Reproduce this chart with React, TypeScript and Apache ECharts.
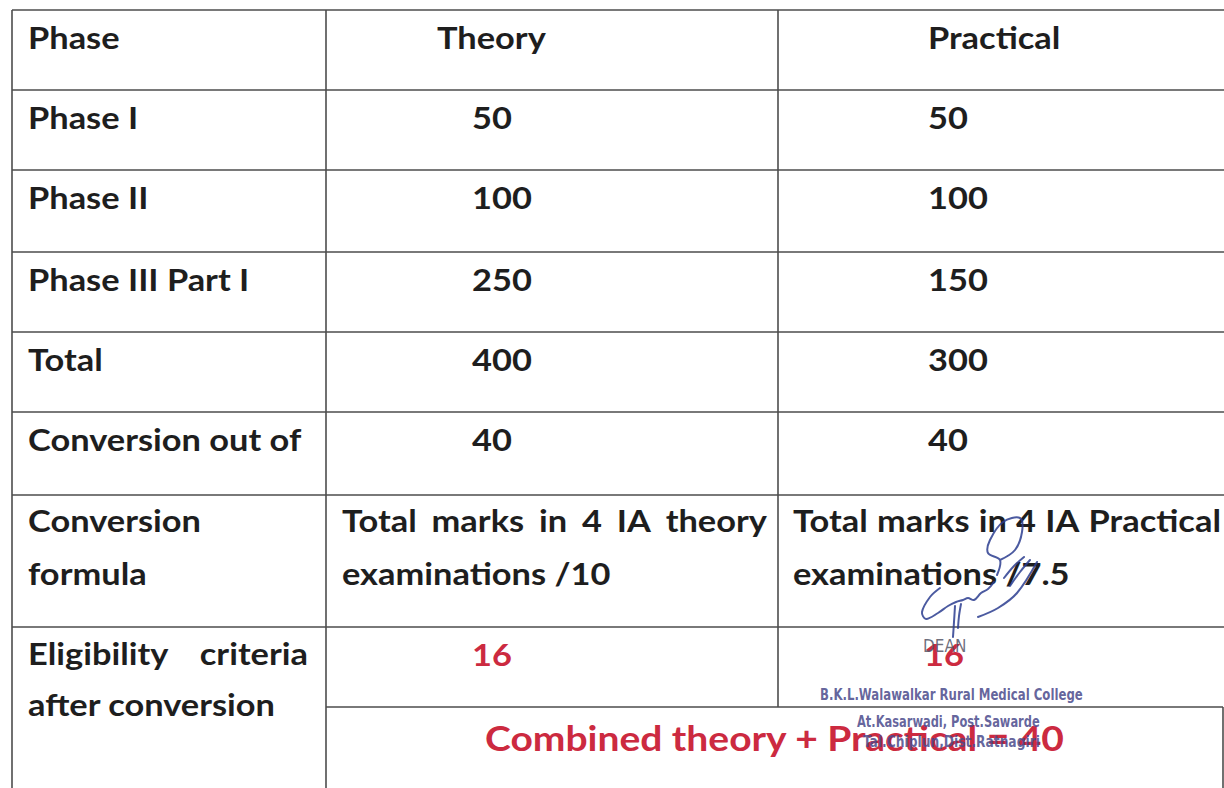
import React, { useEffect, useRef } from "react";
import * as echarts from "echarts";

// ---- data ----
const headers = ["Phase", "Theory", "Practical"];
const phases = ["Phase I", "Phase II", "Phase III Part I", "Total", "Conversion out of"];
const theoryMarks = ["50", "100", "250", "400", "40"];
const practicalMarks = ["50", "100", "150", "300", "40"];
const formulaLabel = ["Conversion", "formula"];
const theoryFormula = ["Total marks in 4 IA theory", "examinations /10"];
const practicalFormula = ["Total marks in 4 IA Practical", "examinations /7.5"];
const eligibilityLabel = ["Eligibility criteria", "after conversion"];
const eligibility = ["16", "16"];
const combinedText = "Combined theory + Practical = 40";
const stampLines = [
  "B.K.L.Walawalkar Rural Medical College",
  "At.Kasarwadi, Post.Sawarde",
  "Tal.Chiplun,Dist.Ratnagiri",
];
const stampTitle = "DEAN";

// ---- layout ----
const W = 1224;
const H = 788;
const FONT = "Lato, 'Open Sans', sans-serif";
const FS = 31;
const SX = 1.11;
const TEXT = "#1e1e1e";
const RED = "#cc2a40";
const LINE = "#4d4d4d";
const X0 = 12, X1 = 326, X2 = 778, X3 = 1223;
const rowTops = [10, 90, 170, 252, 332, 412, 495, 627];
const subRow = 707;
const BASE = 36;

const ctx = typeof document !== "undefined" ? document.createElement("canvas").getContext("2d") : null;
function measure(t: string, size: number, family: string, weight = "bold") {
  if (!ctx) return t.length * size * 0.5;
  ctx.font = `${weight} ${size}px ${family}`;
  return ctx.measureText(t).width;
}

function txt(text: string, x: number, baseline: number, opts: any = {}) {
  const size = opts.size ?? FS;
  return {
    type: "text",
    x,
    y: baseline - size * 0.3,
    z: opts.z ?? 10,
    scaleX: opts.scaleX ?? SX,
    style: {
      text,
      fill: opts.fill ?? TEXT,
      font: `${opts.weight ?? "bold"} ${size}px ${opts.family ?? FONT}`,
      textAlign: opts.align ?? "left",
      textVerticalAlign: "middle",
      opacity: opts.opacity ?? 1,
    },
  };
}

function justify(text: string, xa: number, xb: number, baseline: number, opts: any = {}) {
  const words = text.split(" ");
  const size = opts.size ?? FS;
  const widths = words.map((w) => measure(w, size, FONT) * SX);
  const total = widths.reduce((a, b) => a + b, 0);
  const gap = words.length > 1 ? (xb - xa - total) / (words.length - 1) : 0;
  const out: any[] = [];
  let x = xa;
  words.forEach((w, i) => {
    out.push(txt(w, x, baseline, opts));
    x += widths[i] + gap;
  });
  return out;
}

function line(x1: number, y1: number, x2: number, y2: number) {
  return {
    type: "line",
    z: 1,
    shape: { x1, y1, x2, y2 },
    style: { stroke: LINE, lineWidth: 1.6 },
  };
}

function buildGraphic() {
  const g: any[] = [];
  g.push({ type: "rect", z: 0, shape: { x: 0, y: 0, width: W, height: H }, style: { fill: "#ffffff" } });
  // horizontal lines
  rowTops.forEach((y) => g.push(line(X0, y, X3 + 2, y)));
  g.push(line(X1, subRow, X3, subRow));
  // vertical lines
  g.push(line(X0, rowTops[0], X0, H));
  g.push(line(X1, rowTops[0], X1, H));
  g.push(line(X2, rowTops[0], X2, subRow));
  g.push(line(X3, subRow, X3, H));

  // header
  g.push(txt(headers[0], 28, rowTops[0] + BASE));
  g.push(txt(headers[1], 437, rowTops[0] + BASE));
  g.push(txt(headers[2], 928, rowTops[0] + BASE));

  phases.forEach((p, i) => {
    const b = rowTops[i + 1] + BASE;
    g.push(txt(p, 28, b));
    g.push(txt(theoryMarks[i], 472, b));
    g.push(txt(practicalMarks[i], 928, b));
  });

  // conversion formula row
  const fTop = rowTops[6];
  g.push(txt(formulaLabel[0], 28, fTop + 34));
  g.push(txt(formulaLabel[1], 28, fTop + 87));
  g.push(...justify(theoryFormula[0], 342, 767, fTop + 34));
  g.push(txt(theoryFormula[1], 342, fTop + 87));
  g.push(...justify(practicalFormula[0], 793, 1221, fTop + 34));
  g.push(txt(practicalFormula[1], 793, fTop + 87));

  // eligibility
  const eTop = rowTops[7];
  g.push(...justify(eligibilityLabel[0], 28, 308, eTop + 35));
  g.push(txt(eligibilityLabel[1], 28, eTop + 86));
  g.push(txt(eligibility[0], 472, eTop + 36, { fill: RED }));
  g.push(txt(eligibility[1], 924, eTop + 36, { fill: RED }));
  const cSize = 35;
  const cScale = 580 / measure(combinedText, cSize, FONT);
  g.push(txt(combinedText, (X1 + X3) / 2, 748, { fill: RED, align: "center", size: cSize, scaleX: cScale }));

  // stamp
  const STAMP = "#4a4a8c";
  const SF = "'Liberation Sans Narrow', 'DejaVu Sans Condensed', 'Liberation Sans', sans-serif";
  g.push(txt(stampTitle, 923, 651, { size: 17, family: SF, weight: "normal", fill: "#555566", z: 20, opacity: 0.85, scaleX: 1 }));
  const stampSpec = [
    { x: 820, w: 263, b: 699 },
    { x: 857, w: 183, b: 726 },
    { x: 863, w: 177, b: 746 },
  ];
  stampLines.forEach((s, i) => {
    const sp = stampSpec[i];
    const mw = measure(s, 15, SF, "bold");
    g.push(txt(s, sp.x, sp.b, { size: 15, family: SF, weight: "bold", fill: STAMP, z: 20, opacity: 0.85, scaleX: sp.w / mw }));
  });

  // signature strokes
  const SIG = "#2b3d8f";
  const strokes = [
    // G-shaped start
    [[940, 588], [930, 597], [922, 612], [926, 619], [938, 613], [948, 606], [956, 602], [963, 600], [968, 598], [974, 600], [981, 593], [988, 589], [994, 582]],
    // vertical stroke
    [[955, 606], [954, 622], [953, 637]],
    [[961, 604], [959, 616], [958, 628]],
    // long diagonal
    [[978, 617], [998, 608], [1017, 593], [1037, 562]],
    // upper loop
    [[1000, 560], [1015, 550], [1022, 532], [1020, 518], [1003, 522], [990, 540], [988, 553], [1000, 560], [997, 575]],
    // slashes over 7.5
    [[1004, 578], [1014, 566], [1024, 557]],
    [[1010, 586], [1020, 572], [1030, 560]],
  ];
  strokes.forEach((pts) =>
    g.push({
      type: "polyline",
      z: 25,
      shape: { points: pts, smooth: 0.35 },
      style: { stroke: SIG, lineWidth: 2, fill: null, opacity: 0.85, lineCap: "round", lineJoin: "round" },
    })
  );
  return g;
}

export default function App() {
  const ref = useRef<HTMLDivElement>(null);
  useEffect(() => {
    if (!ref.current) return;
    const chart = echarts.init(ref.current, undefined, { renderer: "svg" });
    chart.setOption({
      animation: false,
      backgroundColor: "#ffffff",
      graphic: { elements: buildGraphic() },
    });
    return () => chart.dispose();
  }, []);
  return (
    <div
      ref={ref}
      style={{ position: "fixed", left: 0, top: 0, width: W, height: H, background: "#fff" }}
    />
  );
}
